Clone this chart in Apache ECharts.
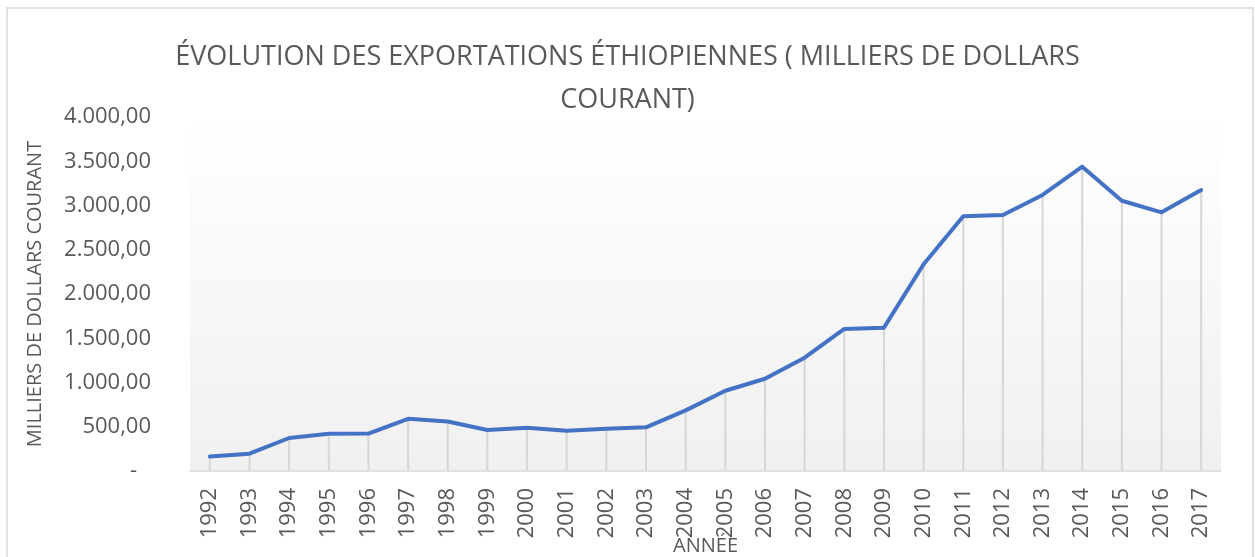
<!DOCTYPE html>
<html>
<head>
<meta charset="utf-8">
<script src="https://cdn.jsdelivr.net/npm/echarts@6/dist/echarts.min.js"></script>
<style>
  html, body { margin: 0; padding: 0; background: #fff; }
  #chart { width: 1255px; height: 557px; }
</style>
</head>
<body>
<div id="chart"></div>
<script>
// années (axe des catégories)
var years = ["1992", "1993", "1994", "1995", "1996", "1997", "1998", "1999", "2000",
  "2001", "2002", "2003", "2004", "2005", "2006", "2007", "2008", "2009", "2010",
  "2011", "2012", "2013", "2014", "2015", "2016", "2017"];
// exportations, milliers de dollars courant
var exportsValues = [165, 196, 373, 421, 423, 590, 560, 463, 489, 455, 478, 493,
  685, 907, 1042, 1280, 1605, 1620, 2336, 2878, 2893, 3119, 3439, 3054, 2923, 3175];

var titleText = "ÉVOLUTION DES EXPORTATIONS ÉTHIOPIENNES ( MILLIERS DE DOLLARS\nCOURANT)";
var yName = "MILLIERS DE DOLLARS COURANT";
var xName = "ANNÉE";

var font = "'Open Sans', 'Liberation Sans', sans-serif";
var grey = "#595959";

function fmt(v) {
  if (v === 0) return "{z|-}";
  var parts = v.toFixed(2).split(".");
  var intPart = parts[0].replace(/\B(?=(\d{3})+(?!\d))/g, ".");
  return intPart + "," + parts[1];
}

var myChart = echarts.init(document.getElementById("chart"));
var option = {
  backgroundColor: "#fff",
  animation: false,
  title: {
    text: titleText,
    left: "center",
    top: 31,
    textStyle: {
      fontFamily: font,
      fontSize: 27,
      fontWeight: "normal",
      color: grey,
      lineHeight: 43,
    },
  },
  graphic: [
    {
      type: "rect",
      shape: { x: 7, y: 8, width: 1246, height: 560 },
      style: { fill: "none", stroke: "#d9d9d9", lineWidth: 1.5 },
      silent: true,
    },
  ],
  grid: {
    left: 190,
    right: 34,
    top: 117,
    bottom: 86,
    outerBoundsMode: "none",
    containLabel: false,
    show: true,
    borderWidth: 0,
    backgroundColor: new echarts.graphic.LinearGradient(0, 0, 0, 1, [
      { offset: 0, color: "#ffffff" },
      { offset: 1, color: "#f0f0f0" },
    ]),
  },
  xAxis: {
    type: "category",
    data: years,
    boundaryGap: true,
    name: xName,
    nameLocation: "middle",
    nameGap: 75,
    nameMoveOverlap: false,
    nameTextStyle: { fontFamily: font, fontSize: 20, color: grey, verticalAlign: "middle" },
    axisLine: { lineStyle: { color: "#d9d9d9", width: 1.5 } },
    axisTick: { show: false },
    axisLabel: {
      rotate: 90,
      margin: 17,
      fontFamily: font,
      fontSize: 22,
      color: grey,
      interval: 0,
    },
    splitLine: { show: false },
  },
  yAxis: {
    type: "value",
    min: 0,
    max: 4000,
    interval: 500,
    name: yName,
    nameLocation: "middle",
    nameGap: 145,
    nameRotate: 90,
    nameMoveOverlap: false,
    nameTextStyle: { fontFamily: font, fontSize: 20, color: grey },
    axisLine: { show: false },
    axisTick: { show: false },
    splitLine: { show: false },
    axisLabel: {
      margin: 39,
      fontFamily: font,
      fontSize: 22,
      color: grey,
      formatter: fmt,
      rich: {
        z: { fontFamily: font, fontSize: 22, color: grey, padding: [0, 14, 0, 0] },
      },
    },
  },
  series: [
    {
      // lignes de projection
      type: "bar",
      data: exportsValues,
      barWidth: 2,
      silent: true,
      itemStyle: { color: "#d6d6d6" },
      z: 1,
    },
    {
      type: "line",
      data: exportsValues,
      showSymbol: false,
      symbol: "none",
      lineStyle: { color: "#4472c4", width: 4, cap: "round", join: "round" },
      z: 3,
    },
  ],
};
myChart.setOption(option);
</script>
</body>
</html>
